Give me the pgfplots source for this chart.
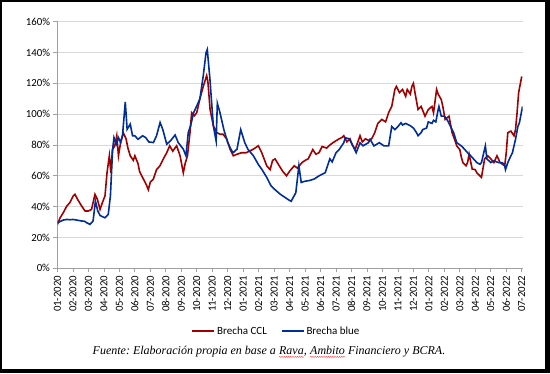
\documentclass[border=0pt]{standalone}
\usepackage{fontspec}
\setmainfont{Carlito}
\newfontfamily\capfont{Liberation Serif}
\usepackage{pgfplots}
\pgfplotsset{compat=1.18}
\usetikzlibrary{decorations.pathmorphing}
\definecolor{ccl}{RGB}{160,0,0}
\definecolor{blu}{RGB}{0,45,150}
\definecolor{axgray}{RGB}{160,160,160}
\definecolor{gridgray}{RGB}{217,217,217}
\newcommand{\squig}[1]{\tikz[baseline=(w.base)]{\node[inner sep=0pt,outer sep=0pt](w){#1};\draw[red!80, line width=0.4pt, decorate, decoration={snake, amplitude=0.5pt, segment length=2.2pt}] ([yshift=-2.2pt]w.base west) -- ([yshift=-2.2pt]w.base east);}}
\frenchspacing
\begin{document}
\begin{tikzpicture}[x=1pt,y=1pt]
\fill[black] (0,0) rectangle (550,373);
\fill[white] (2,4) rectangle (545,371);
\begin{axis}[
  at={(57.5pt,104.7pt)}, anchor=south west,
  scale only axis, width=465pt, height=246.6pt,
  xmin=0, xmax=30.05, ymin=0, ymax=160,
  axis x line*=bottom, axis y line*=left,
  axis line style={axgray, line width=0.8pt, -},
  xtick={0,...,30},
  xticklabels={01-2020,02-2020,03-2020,04-2020,05-2020,06-2020,07-2020,08-2020,09-2020,10-2020,11-2020,12-2020,01-2021,02-2021,03-2021,04-2021,05-2021,06-2021,07-2021,08-2021,09-2021,10-2021,11-2021,12-2021,01-2022,02-2022,03-2022,04-2022,05-2022,06-2022,07-2022},
  x tick label style={rotate=90, anchor=east, font=\fontsize{10.8}{12}\selectfont},
  ytick={0,20,...,160},
  yticklabel={\pgfmathprintnumber{\tick}\%},
  y tick label style={font=\fontsize{10.8}{12}\selectfont},
  /pgf/number format/assume math mode=true,
  ymajorgrids, grid style={gridgray, line width=1pt},
  tick style={axgray, line width=0.8pt},
  tick align=outside, major tick length=4pt,
  legend columns=2,
  legend style={draw=none, fill=none, at={(0.471,-0.254)}, anchor=center,
    font=\fontsize{11}{13}\selectfont,
    /tikz/every even column/.append style={column sep=12pt}},
  legend image code/.code={\draw[#1] (0pt,0pt) -- (22pt,0pt);},
]
\addplot[ccl, line width=1.6pt] coordinates {
(0,28.5)(0.17,32.8)(0.37,36)(0.6,40.4)(0.8,42.6)(1.02,47)(1.13,48)(1.3,44.7)(1.56,40.4)(1.78,37.2)(2.0,37.2)(2.2,38.2)(2.42,48)(2.58,44.7)(2.75,38.2)(2.9,42.6)(3.07,47)(3.2,62)(3.35,73)(3.45,62)(3.55,77)(3.7,79.4)(3.83,86)(3.94,73)(4.08,81.6)(4.25,88)(4.43,84)(4.55,78)(4.7,73)(4.9,70)(5.0,73)(5.2,68)(5.3,63)(5.44,60)(5.6,57)(5.75,54)(5.87,51)(6.0,56)(6.19,57.8)(6.4,64)(6.62,66.5)(6.84,71)(7.06,75)(7.25,79.5)(7.45,76)(7.7,79.5)(7.92,73)(8.13,62)(8.25,68)(8.4,73)(8.56,88)(8.67,101)(8.85,99)(9.0,101)(9.2,110)(9.42,118)(9.64,125)(9.72,121)(9.86,103)(10.07,92.5)(10.3,88)(10.5,87)(10.7,87)(10.94,83.8)(11.15,77.3)(11.36,73)(11.6,74)(11.9,75)(12.2,75)(12.4,76)(12.66,77.3)(12.98,79.5)(13.2,75)(13.52,66.5)(13.74,64)(13.9,70)(14.06,71)(14.3,67)(14.55,63)(14.8,60)(15.0,63)(15.3,66.5)(15.5,65)(15.8,68.6)(16.0,70)(16.2,71)(16.5,77)(16.7,74)(16.9,75)(17.1,79)(17.4,78)(17.6,80)(17.8,81.5)(18.15,83.7)(18.4,85)(18.5,86)(18.7,82)(18.9,84)(19.05,80)(19.23,77)(19.55,86)(19.7,82)(19.9,84)(20.1,83)(20.3,84)(20.5,88)(20.7,94)(20.96,96.6)(21.2,95)(21.4,101)(21.6,105)(21.8,116)(21.9,118)(22.1,114)(22.3,116)(22.5,111.6)(22.6,116)(22.8,113)(22.9,118)(23.0,120)(23.1,114)(23.3,103)(23.5,105)(23.75,98.7)(23.96,103)(24.2,105)(24.3,101)(24.5,116)(24.6,113)(24.8,109.5)(24.9,105)(25.05,96.6)(25.3,98.7)(25.5,88)(25.65,84)(25.8,79.4)(26.0,77)(26.1,72)(26.2,68.6)(26.4,66.5)(26.5,68.6)(26.6,74)(26.8,64.4)(27.0,64)(27.1,62)(27.3,60)(27.4,59)(27.6,71)(27.8,73)(28.0,71)(28.2,68.6)(28.4,73)(28.6,68.6)(28.9,66.5)(29.0,75)(29.1,88)(29.3,89)(29.5,86)(29.6,90)(29.7,101)(29.8,114)(30.0,124.5)
};
\addlegendentry{Brecha CCL}
\addplot[blu, line width=1.6pt] coordinates {
(0,29.6)(0.2,30.5)(0.37,31.3)(0.6,31.7)(0.8,31.5)(1.0,31.7)(1.24,31.3)(1.4,31)(1.56,30.7)(1.75,30.5)(1.88,29.6)(2.1,28.5)(2.3,30.7)(2.45,43.7)(2.6,37.2)(2.75,34.3)(2.9,33.5)(3.07,32.8)(3.28,35)(3.42,47)(3.56,77)(3.65,84.8)(3.8,80.5)(3.94,84.8)(4.08,81.6)(4.2,86)(4.38,108)(4.5,90.2)(4.7,93.5)(4.85,86)(5.0,86)(5.2,83.7)(5.5,86)(5.7,84.8)(5.9,82)(6.2,81.6)(6.4,86)(6.63,94.6)(6.8,90.2)(7.06,80.5)(7.3,82.7)(7.6,86.5)(7.8,81.6)(8.13,77.3)(8.3,73)(8.45,88)(8.6,92.5)(8.8,101)(9.2,109.8)(9.42,125)(9.6,140)(9.68,142)(9.85,122.8)(10.07,92.5)(10.25,82.7)(10.33,107)(10.5,101)(10.75,90)(11.0,81.6)(11.2,77.3)(11.35,75)(11.6,77.3)(11.84,90)(12.1,81.6)(12.3,77.3)(12.66,73)(13.0,67)(13.2,64.3)(13.52,59)(13.8,53.5)(14.06,51)(14.4,48)(14.7,46)(15.0,44)(15.1,43.5)(15.4,49)(15.6,66.5)(15.75,55.7)(16.0,56.5)(16.3,57)(16.6,58)(16.9,60)(17.3,62)(17.45,66.5)(17.6,71)(17.75,69)(18.0,75)(18.2,77)(18.5,81.5)(18.6,84.7)(18.85,84)(19.1,79.4)(19.3,75)(19.55,81.5)(19.75,79.5)(20.1,81.5)(20.2,83.7)(20.45,79.4)(20.8,81.5)(21.1,79.4)(21.4,79.4)(21.6,92)(21.8,90)(22.0,92)(22.2,94.4)(22.3,93)(22.5,94)(22.8,92.5)(23.0,91)(23.2,88)(23.3,86)(23.5,88)(23.6,90)(23.85,91)(23.96,95)(24.2,94)(24.3,96)(24.45,95)(24.6,103)(24.65,105)(24.8,98.7)(25.0,98.7)(25.2,96)(25.4,92)(25.6,88)(25.8,81.5)(26.1,79.4)(26.3,77.3)(26.5,75)(26.7,73)(27.1,68.6)(27.3,67.5)(27.4,68.6)(27.5,73)(27.65,79.4)(27.75,71)(28.0,68.6)(28.2,69.7)(28.5,68.6)(28.75,68.6)(28.9,66.5)(28.95,64)(29.1,68.6)(29.3,73)(29.4,75)(29.5,79.4)(29.6,83.7)(29.75,92)(29.85,94.4)(30.05,105)
};
\addlegendentry{Brecha blue}
\end{axis}
\node[font=\capfont\itshape\fontsize{12}{14}\selectfont] at (269,21) {Fuente: Elaboración propia en base a \squig{Rava}, \squig{Ambito} Financiero y BCRA.};
\end{tikzpicture}
\end{document}
